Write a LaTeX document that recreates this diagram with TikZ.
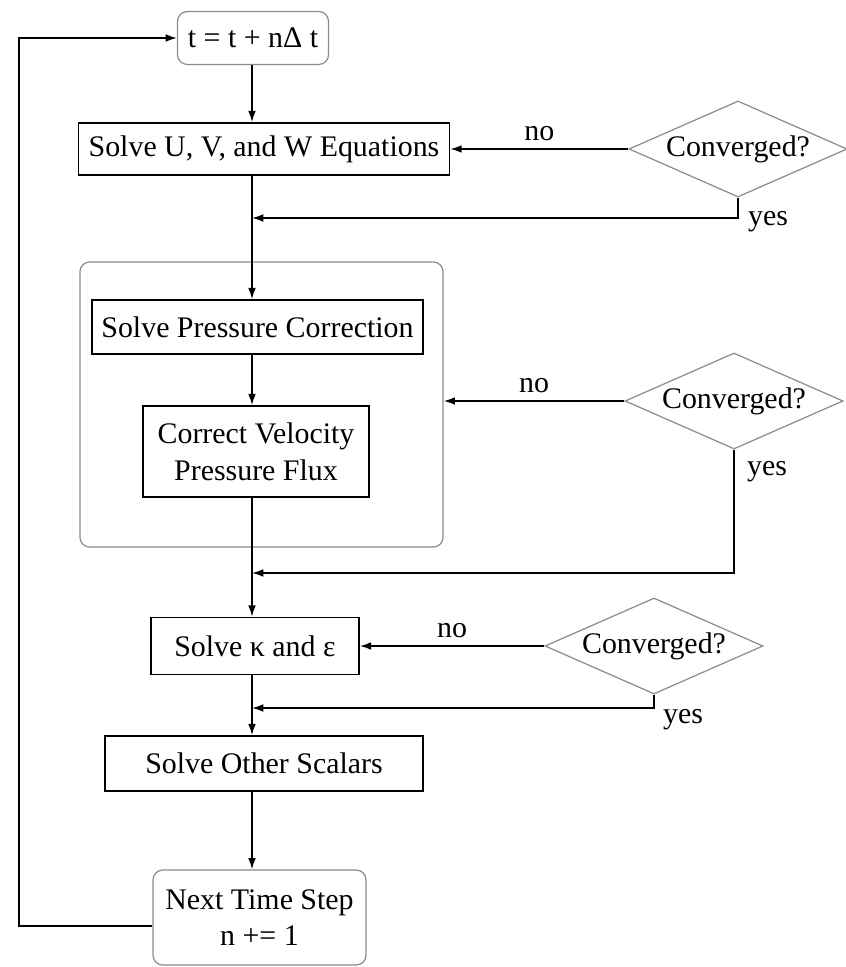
\documentclass[tikz,border=0pt]{standalone}
\usepackage{fontspec}
\setmainfont{Liberation Serif}
\usetikzlibrary{arrows.meta,shapes.geometric}

\begin{document}
\begin{tikzpicture}[x=0.01cm,y=-0.01cm,line width=0.45pt,
  >={Latex[length=3.2pt,width=2.2pt]},
  every node/.style={font=\fontsize{8.5}{10.4}\selectfont,inner sep=0pt,align=center},
  task/.style={draw,rectangle},
  rterm/.style={draw=black!45,line width=0.35pt,rounded corners=1mm,rectangle},
  test/.style={draw=black!45,line width=0.35pt,diamond,aspect=2.3,
    minimum width=2.18cm,minimum height=0.96cm}]
\useasboundingbox (0,0) rectangle (846,967);

% group box behind the pressure step
\node[rterm,minimum width=3.63cm,minimum height=2.85cm] (inner) at (261.5,404.5) {};

\node[rterm,minimum width=1.51cm,minimum height=0.53cm] (start) at (253,38) {t = t + nΔ t};
\node[task,minimum width=3.71cm,minimum height=0.52cm] (solveU) at (264,149) {Solve U, V, and W Equations};
\node[test] (convA) at (738,149) {Converged?};
\node[task,minimum width=3.31cm,minimum height=0.54cm] (press) at (257.5,327) {Solve Pressure Correction};
\node[task,minimum width=2.26cm,minimum height=0.91cm] (corr) at (256,451.5) {Correct Velocity\\Pressure Flux};
\node[test] (convB) at (734,401) {Converged?};
\node[task,minimum width=2.08cm,minimum height=0.57cm] (kappa) at (255,646) {Solve κ and ε};
\node[test] (convC) at (654,646) {Converged?};
\node[task,minimum width=3.18cm,minimum height=0.55cm] (scal) at (264,763.5) {Solve Other Scalars};
\node[rterm,minimum width=2.13cm,minimum height=0.95cm] (next) at (259.5,917.5) {Next Time Step\\n += 1};

\coordinate (mA) at (252,218);
\coordinate (mB) at (252,573);
\coordinate (mC) at (252,708);
\coordinate (back) at (19,926);

% main line
\draw[->] (start.south -| mA) -- (mA |- solveU.north);
\draw[->] (mA |- solveU.south) -- (mA |- press.north);
\draw[->] (mA |- press.south) -- (mA |- corr.north);
\draw[->] (mA |- corr.south) -- (mA |- kappa.north);
\draw[->] (mA |- kappa.south) -- (mA |- scal.north);
\draw[->] (mA |- scal.south) -- (mA |- next.north);
\draw[->] (next.west |- back) -- (back) |- (start.west);

% convergence tests
\draw[->] (convA.west) -- node[above=2pt] (noA) {no} (solveU.east);
\draw[->] (convA.south) -- (convA.south |- mA) -- (mA);
\draw[->] (convB.west) -- node[above=2pt] (noB) {no} (convB.west -| inner.east);
\draw[->] (convB.south) -- (convB.south |- mB) -- (mB);
\draw[->] (convC.west) -- node[above=2pt] (noC) {no} (kappa.east);
\draw[->] (convC.south) -- (convC.south |- mC) -- (mC);

\node (yesA) at (768,222) {yes};
\node (yesB) at (767,472) {yes};
\node (yesC) at (683,720) {yes};

\end{tikzpicture}
\end{document}
